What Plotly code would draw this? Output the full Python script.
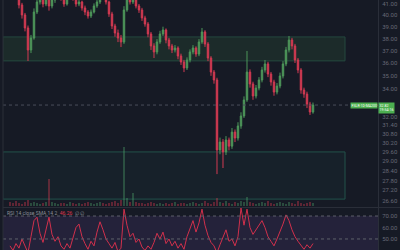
import math
import plotly.graph_objects as go

# ---------------- data ----------------
opens = [43.41, 43.03, 42.47, 41.82, 40.91, 40.02, 38.89, 37.05, 38.04, 40.28,
         41.18, 41.63, 41.00, 41.54, 40.82, 41.36, 41.91, 42.47, 41.54, 41.00,
         41.72, 42.28, 41.54, 41.00, 41.18, 40.64, 40.28, 39.93, 40.28, 40.82,
         41.18, 41.91, 41.63, 41.18, 40.11, 39.06, 38.46, 38.04, 37.71, 40.46,
         41.72, 41.18, 41.54, 40.82, 40.46, 39.76, 39.23, 38.38, 37.38, 36.89,
         37.71, 38.38, 38.72, 37.87, 37.38, 37.05, 37.21, 36.56, 36.08, 35.61,
         36.24, 36.89, 37.21, 36.72, 37.71, 38.55, 37.54, 36.40, 35.29, 34.68,
         29.73, 30.25, 29.60, 30.39, 29.98, 30.92, 30.52, 31.34, 32.04, 33.19,
         35.29, 34.38, 33.48, 34.07, 34.68, 35.45, 35.93, 35.14, 34.53, 33.77,
         34.22, 34.99, 35.93, 37.05, 37.87, 37.38, 36.24, 35.45, 33.92, 33.62,
         32.89, 32.32]
closes = [43.03, 42.47, 41.82, 40.91, 40.02, 38.89, 37.05, 38.04, 40.28, 41.18,
          41.63, 41.00, 41.54, 40.82, 41.36, 41.91, 42.47, 41.54, 41.00, 41.72,
          42.28, 41.54, 41.00, 41.18, 40.64, 40.28, 39.93, 40.28, 40.82, 41.18,
          41.91, 41.63, 41.18, 40.11, 39.06, 38.46, 38.04, 37.71, 40.46, 41.72,
          41.18, 41.54, 40.82, 40.46, 39.76, 39.23, 38.38, 37.38, 36.89, 37.71,
          38.38, 38.72, 37.87, 37.38, 37.05, 37.21, 36.56, 36.08, 35.61, 36.24,
          36.89, 37.21, 36.72, 37.71, 38.55, 37.54, 36.40, 35.29, 34.68, 29.73,
          30.25, 29.60, 30.39, 29.98, 30.92, 30.52, 31.34, 32.04, 33.19, 35.29,
          34.38, 33.48, 34.07, 34.68, 35.45, 35.93, 35.14, 34.53, 33.77, 34.22,
          34.99, 35.93, 37.05, 37.87, 37.38, 36.24, 35.45, 33.92, 33.62, 32.89,
          32.32, 32.82]
highs = [43.70, 43.20, 42.70, 42.00, 41.10, 40.20, 39.10, 38.30, 40.60, 41.50,
         41.95, 41.80, 41.85, 41.70, 41.60, 42.20, 42.80, 42.60, 41.70, 41.95,
         42.60, 42.45, 41.75, 41.40, 41.30, 40.85, 40.45, 40.50, 41.05, 41.45,
         42.15, 42.10, 41.80, 41.30, 40.30, 39.25, 38.75, 38.30, 40.80, 42.00,
         41.90, 41.80, 41.70, 41.00, 40.65, 39.95, 39.40, 38.55, 37.60, 37.95,
         38.65, 39.00, 38.85, 38.05, 37.55, 37.45, 37.35, 36.75, 36.25, 36.45,
         37.10, 37.45, 37.35, 37.95, 38.89, 38.70, 37.70, 36.55, 35.45, 34.85,
         30.55, 30.45, 30.65, 30.55, 31.20, 31.10, 31.60, 32.30, 33.45, 36.97,
         35.50, 34.55, 34.30, 34.90, 35.70, 36.24, 36.10, 35.30, 34.70, 34.45,
         35.25, 36.15, 37.30, 38.21, 38.05, 37.55, 36.40, 35.60, 34.10, 33.80,
         33.05, 33.00]
lows = [42.80, 42.20, 41.60, 40.60, 39.70, 38.60, 36.16, 36.80, 37.90, 40.10,
        40.95, 40.70, 40.80, 40.40, 40.60, 41.10, 41.70, 41.30, 40.75, 40.85,
        41.55, 41.30, 40.75, 40.80, 40.40, 40.00, 39.70, 39.75, 40.15, 40.65,
        41.00, 41.40, 40.95, 39.85, 38.80, 38.15, 37.70, 37.29, 37.55, 40.30,
        40.95, 41.00, 40.60, 40.20, 39.50, 39.00, 38.10, 37.05, 36.40, 36.70,
        37.55, 38.20, 37.60, 37.10, 36.80, 36.85, 36.30, 35.85, 35.29, 35.45,
        36.05, 36.70, 36.50, 36.55, 37.55, 37.30, 36.15, 35.00, 34.40, 28.19,
        29.45, 28.57, 29.40, 29.70, 29.80, 30.25, 30.35, 31.15, 31.90, 33.05,
        34.10, 33.20, 33.30, 33.90, 34.50, 35.25, 34.90, 34.25, 33.50, 33.60,
        34.05, 34.80, 35.75, 36.85, 37.10, 36.00, 35.20, 33.65, 33.35, 32.60,
        32.11, 32.20]
volumes = [4, 3, 5, 3, 2, 4, 6, 3, 4, 3, 2, 3, 4,
           27,
           4, 3, 2, 3, 3, 2, 4, 3, 2, 3, 2, 3, 4, 3, 2, 3, 4, 3, 2, 3, 4, 5, 3, 6,
           59, 8, 4, 13, 4, 3,
           3, 2, 3, 4, 3, 2, 3, 2, 3, 2, 3, 4, 2, 3, 3, 2, 3, 4, 3, 2, 3, 5, 3, 2, 4,
           8,
           4, 3, 5, 3, 2, 4, 3, 5, 4,
           9,
           4, 3, 2, 3, 4, 3, 5, 3, 2, 3, 4, 3, 2, 4, 3, 2, 5, 3, 2, 3, 4, 3]
rsi = [44, 40, 46, 42, 50, 45, 38, 52, 66, 69,
       55, 47, 58, 69, 54, 48, 52, 44, 41, 46,
       42, 50, 60, 63, 52, 46, 41, 48, 44, 56,
       65, 58, 50, 46, 42, 47, 39, 42, 76, 62,
       52, 55, 47, 50, 43, 40, 44, 41, 47, 55,
       50, 56, 46, 50, 44, 48, 42, 46, 41, 52,
       60, 66, 56, 64, 76, 62, 53, 47, 44, 38,
       45, 52, 58, 48, 50, 44, 52, 77, 62, 76,
       60, 54, 58, 62, 66, 60, 52, 48, 44, 50,
       56, 63, 71, 66, 58, 52, 48, 44, 41, 45,
       42, 46]

# 33.00 is hidden behind the last-price badge in the reference
price_ticks = [41, 40, 39, 38, 37, 36, 35, 34, 32, 31.4, 30.8, 30.2,
               29.6, 29.0, 28.4, 27.8, 27.2, 26.6]
rsi_ticks = [70, 60, 50]
zone_upper = [36.17, 38.13]
zone_lower = [26.68, 29.60]
last_price = 32.82
rsi_last = 46.26

x = list(range(len(closes)))

# ---------------- styling ----------------
BG = "#161a25"
UP = "#4d965a"
DN = "#d23a52"
AXC = "#666975"
LINE = "#2a2e39"

fig = go.Figure()

vol_colors = ["rgba(80,170,110,0.35)" if c >= o else "rgba(230,60,80,0.35)"
              for o, c in zip(opens, closes)]
fig.add_trace(go.Bar(x=x, y=volumes, marker_color=vol_colors,
                     marker_line_width=0, width=0.4,
                     xaxis="x", yaxis="y3", hoverinfo="skip"))

fig.add_trace(go.Candlestick(
    x=x, open=opens, high=highs, low=lows, close=closes,
    increasing=dict(line=dict(color=UP, width=1), fillcolor=UP),
    decreasing=dict(line=dict(color=DN, width=1), fillcolor=DN),
    whiskerwidth=0, xaxis="x", yaxis="y"))

fig.add_trace(go.Scatter(x=x, y=rsi, mode="lines",
                         line=dict(color="#d1304c", width=1),
                         xaxis="x", yaxis="y2"))

lg = math.log10
shapes = [
    # RSI band
    dict(type="rect", xref="paper", x0=0, x1=1, yref="y2", y0=30, y1=70,
         fillcolor="rgba(126,87,194,0.14)", line_width=0, layer="below"),
    # upper zone
    dict(type="rect", xref="x", x0=-2.4, x1=111.67, yref="y",
         y0=zone_upper[0], y1=zone_upper[1],
         fillcolor="#1c2b2a", line=dict(color="#24483f", width=1), layer="below"),
    # lower zone
    dict(type="rect", xref="x", x0=-2.4, x1=111.67, yref="y",
         y0=zone_lower[0], y1=zone_lower[1],
         fillcolor="#17212a", line=dict(color="#22524a", width=1), layer="below"),
    # last price line
    dict(type="line", xref="paper", x0=0, x1=1, yref="y",
         y0=last_price, y1=last_price,
         line=dict(color="#4a4e5a", width=1, dash="dot")),
    # rsi levels
    dict(type="line", xref="paper", x0=0, x1=1, yref="y2", y0=70, y1=70,
         line=dict(color="#5d606b", width=1, dash="dot")),
    dict(type="line", xref="paper", x0=0, x1=1, yref="y2", y0=50, y1=50,
         line=dict(color="#5d606b", width=1, dash="dot")),
    # pane separator
    dict(type="line", xref="paper", x0=0, x1=1.06, yref="paper",
         y0=1 - 207.5 / 250, y1=1 - 207.5 / 250,
         line=dict(color=LINE, width=1)),
    # left border
    dict(type="line", xref="paper", x0=0, x1=0, yref="paper", y0=0, y1=1,
         line=dict(color=LINE, width=1)),
]

annotations = [
    dict(xref="paper", yref="paper", x=0.005, y=1 - 213 / 250,
         xanchor="left", yanchor="middle", showarrow=False,
         text="RSI 14 close SMA 14 2  <span style='color:#e0364f'>%.2f</span>  ∅ ∅" % rsi_last,
         font=dict(size=5, color="#8a8d98", family="Roboto")),
    dict(xref="paper", yref="y", x=1, y=lg(last_price), xanchor="left",
         yanchor="top", yshift=3, showarrow=False, align="left",
         text="%.2f<br>19:54:16" % last_price,
         font=dict(size=3.6, color="#ffffff", family="Roboto"),
         bgcolor="#4caf50", borderpad=0.6),
    dict(xref="paper", yref="y", x=1, y=lg(last_price), xanchor="right",
         yanchor="middle", showarrow=False,
         text="FSLR·1D·MA200",
         font=dict(size=3.5, color="#ffffff", family="Roboto"),
         bgcolor="#4caf50", borderpad=0.5),
]

tickfont = dict(size=6, color=AXC, family="Roboto")
fig.update_layout(
    width=400, height=250,
    margin=dict(l=3, r=22, t=0, b=0),
    paper_bgcolor=BG, plot_bgcolor=BG,
    showlegend=False,
    bargap=0,
    xaxis=dict(domain=[0, 1], range=[-2.33, 122.67], visible=False,
               rangeslider=dict(visible=False), anchor="y"),
    yaxis=dict(domain=[1 - 207 / 250, 1], type="log",
               range=[lg(26.22), lg(41.36)], side="right",
               tickvals=price_ticks, ticktext=["%.2f" % v for v in price_ticks],
               tickfont=tickfont, showgrid=False, zeroline=False,
               showline=True, linecolor=LINE, ticks="", ticklabelstandoff=2),
    yaxis2=dict(domain=[0, 1 - 208 / 250], range=[40.4, 77], side="right",
                anchor="x",
                tickvals=rsi_ticks, ticktext=["%.2f" % v for v in rsi_ticks],
                tickfont=tickfont, showgrid=False, zeroline=False,
                showline=True, linecolor=LINE, ticks="", ticklabelstandoff=2),
    yaxis3=dict(overlaying="y", range=[-1, 206], visible=False),
    shapes=shapes,
    annotations=annotations,
)

fig.write_html("out.html")
